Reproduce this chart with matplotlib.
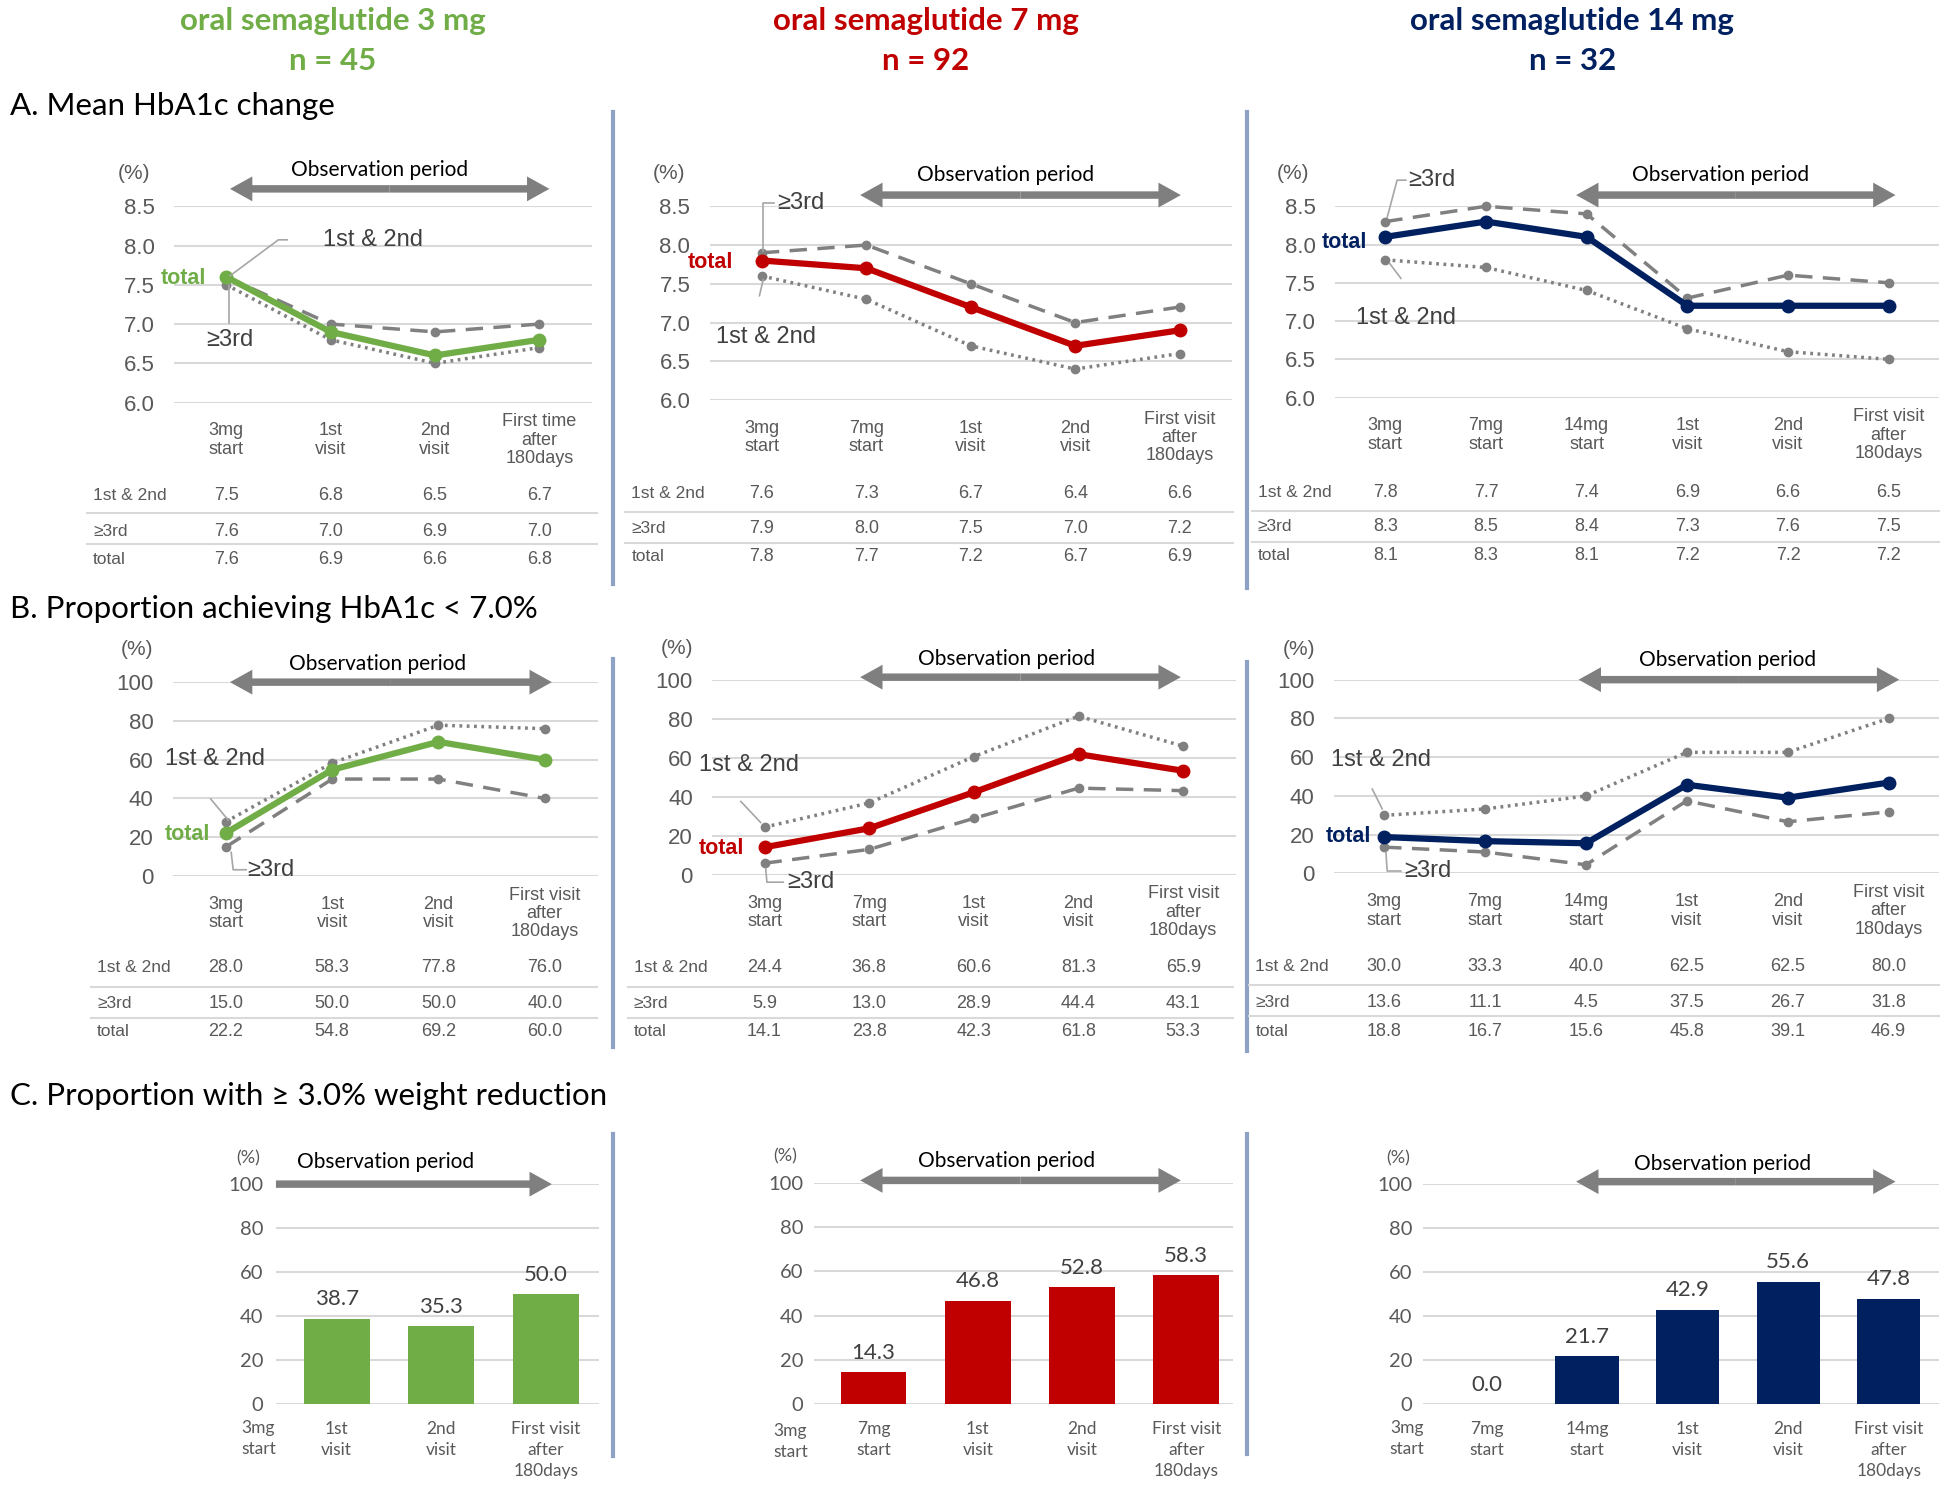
import numpy as np
import matplotlib.pyplot as plt
from matplotlib.patches import FancyArrow
from matplotlib.transforms import blended_transform_factory as blend

plt.rcParams['font.family'] = ['Liberation Sans', 'DejaVu Sans']
CAL = ['Lato', 'DejaVu Sans']

GREEN, RED, NAVY = '#70AD47', '#C00000', '#002060'
GRAY = '#808080'
TXT = '#595959'
GRID = '#D9D9D9'
SEP = '#8EA2C6'

# ---------------- data ----------------
row_names = ["1st & 2nd", "\u22653rd", "total"]

labels_3a = ["3mg\nstart", "1st\nvisit", "2nd\nvisit", "First time\nafter\n180days"]
labels_3b = ["3mg\nstart", "1st\nvisit", "2nd\nvisit", "First visit\nafter\n180days"]
labels_7 = ["3mg\nstart", "7mg\nstart", "1st\nvisit", "2nd\nvisit", "First visit\nafter\n180days"]
labels_14 = ["3mg\nstart", "7mg\nstart", "14mg\nstart", "1st\nvisit", "2nd\nvisit",
             "First visit\nafter\n180days"]

# A. mean HbA1c (%)
a3_12 = [7.5, 6.8, 6.5, 6.7]
a3_3rd = [7.6, 7.0, 6.9, 7.0]
a3_tot = [7.6, 6.9, 6.6, 6.8]
a7_12 = [7.6, 7.3, 6.7, 6.4, 6.6]
a7_3rd = [7.9, 8.0, 7.5, 7.0, 7.2]
a7_tot = [7.8, 7.7, 7.2, 6.7, 6.9]
a14_12 = [7.8, 7.7, 7.4, 6.9, 6.6, 6.5]
a14_3rd = [8.3, 8.5, 8.4, 7.3, 7.6, 7.5]
a14_tot = [8.1, 8.3, 8.1, 7.2, 7.2, 7.2]

# B. proportion HbA1c < 7.0 % (%)
b3_12 = [28.0, 58.3, 77.8, 76.0]
b3_3rd = [15.0, 50.0, 50.0, 40.0]
b3_tot = [22.2, 54.8, 69.2, 60.0]
b7_12 = [24.4, 36.8, 60.6, 81.3, 65.9]
b7_3rd = [5.9, 13.0, 28.9, 44.4, 43.1]
b7_tot = [14.1, 23.8, 42.3, 61.8, 53.3]
b14_12 = [30.0, 33.3, 40.0, 62.5, 62.5, 80.0]
b14_3rd = [13.6, 11.1, 4.5, 37.5, 26.7, 31.8]
b14_tot = [18.8, 16.7, 15.6, 45.8, 39.1, 46.9]

# C. proportion with >= 3.0 % weight reduction (%)
c3_labels = ["1st\nvisit", "2nd\nvisit", "First visit\nafter\n180days"]
c3_vals = [38.7, 35.3, 50.0]
c7_labels = ["7mg\nstart", "1st\nvisit", "2nd\nvisit", "First visit\nafter\n180days"]
c7_vals = [14.3, 46.8, 52.8, 58.3]
c14_labels = ["7mg\nstart", "14mg\nstart", "1st\nvisit", "2nd\nvisit", "First visit\nafter\n180days"]
c14_vals = [0.0, 21.7, 42.9, 55.6, 47.8]

# ---------------- layout (reference pixel grid) ----------------
W, H = 1568, 1204
fig = plt.figure(figsize=(19.49, 14.96), dpi=100)

ov = fig.add_axes([0, 0, 1, 1])
ov.set_xlim(0, W)
ov.set_ylim(H, 0)
ov.axis('off')
ov.set_zorder(5)


def box(x0, y0, x1, y1):
    return [x0 / W, 1 - y1 / H, (x1 - x0) / W, (y1 - y0) / H]


def obs_arrow(x0, x1, y, double=True):
    kw = dict(width=6, head_width=20, head_length=18, length_includes_head=True,
              color='#7F7F7F', lw=0)
    if double:
        xm = (x0 + x1) / 2
        ov.add_patch(FancyArrow(xm, y, x1 - xm, 0, **kw))
        ov.add_patch(FancyArrow(xm, y, x0 - xm, 0, **kw))
    else:
        ov.add_patch(FancyArrow(x0, y, x1 - x0, 0, **kw))


def obs(xc, ty, x0, x1, ay, double=True):
    ov.text(xc, ty, "Observation period", ha='center', va='center', family=CAL,
            fontsize=15, color='black')
    obs_arrow(x0, x1, ay, double)


def line_panel(rect, cats, s12, s3, tot, color, ylim, yticks, fmt):
    ax = fig.add_axes(box(*rect))
    x = np.arange(len(cats))
    ax.patch.set_alpha(0)
    for s in ax.spines.values():
        s.set_visible(False)
    ax.set_xlim(-0.5, len(cats) - 0.5)
    ax.set_ylim(*ylim)
    ax.set_yticks(yticks)
    ax.set_yticklabels([fmt.format(t) for t in yticks])
    ax.grid(axis='y', color=GRID, lw=1.5)
    ax.set_axisbelow(True)
    ax.tick_params(length=0, labelcolor=TXT)
    ax.tick_params(axis='y', labelsize=16, pad=14)
    ax.set_xticks(x)
    ax.set_xticklabels(cats, fontsize=13, linespacing=1.1)
    for t in ax.get_xticklabels():
        t.set_va('center')
    ax.tick_params(axis='x', pad=27)
    ax.plot(x, s3, color=GRAY, lw=2.5, ls=(0, (5, 3)), marker='o', ms=6, clip_on=False)
    ax.plot(x, s12, color=GRAY, lw=2.5, ls=(0, (0.8, 1.3)), marker='o', ms=6, clip_on=False)
    ax.plot(x, tot, color=color, lw=4.5, marker='o', ms=9, clip_on=False)
    return ax


def table(ax, series, x_lab, ys, line_ys, x_end):
    tr = blend(ax.transData, ov.transData)
    for name, vals, y in zip(row_names, series, ys):
        ov.text(x_lab, y, name, ha='left', va='center', fontsize=12.5, color=TXT)
        for i, v in enumerate(vals):
            ax.text(i, y, f"{v:.1f}", transform=tr, ha='center', va='center',
                    fontsize=13, color=TXT, clip_on=False)
    for y in line_ys:
        ov.plot([x_lab - 5, x_end], [y, y], color=GRID, lw=1.5)


def note(x, y, s, ha='left', color='#404040', bold=False, size=17):
    ov.text(x, y, s, ha=ha, va='center', fontsize=size, color=color,
            fontweight='bold' if bold else 'normal')


def leader(xs, ys):
    ov.plot(xs, ys, color='#A6A6A6', lw=1.2)


def bar_panel(rect, xlim, cats, vals, color, ypad):
    ax = fig.add_axes(box(*rect))
    x = np.arange(len(cats))
    ax.patch.set_alpha(0)
    for s in ax.spines.values():
        s.set_visible(False)
    ax.bar(x, vals, width=0.63, color=color, zorder=2)
    ax.set_xlim(*xlim)
    ax.set_ylim(0, 100)
    ax.set_yticks(range(0, 101, 20))
    ax.grid(axis='y', color=GRID, lw=1.5)
    ax.set_axisbelow(True)
    ax.tick_params(length=0, labelcolor=TXT)
    ax.tick_params(axis='y', labelsize=14.5, pad=ypad)
    for t in ax.get_yticklabels():
        t.set_family(CAL)
    ax.set_xticks(x)
    ax.set_xticklabels(cats, fontsize=12.5, linespacing=1.4, family=CAL)
    ax.tick_params(axis='x', pad=12)
    for xi, v in zip(x, vals):
        ax.annotate(f"{v:.1f}", (xi, v), xytext=(0, 14), textcoords='offset points',
                    ha='center', va='center', fontsize=16, family=CAL, color='#404040')
    return ax


# ---------------- headers ----------------
for xc, name, n, col in [(268, "oral semaglutide 3 mg", "n = 45", GREEN),
                         (745, "oral semaglutide 7 mg", "n = 92", RED),
                         (1265, "oral semaglutide 14 mg", "n = 32", NAVY)]:
    ov.text(xc, 17, name, ha='center', va='center', family=CAL, fontsize=22.5,
            fontweight='bold', color=col)
    ov.text(xc, 49, n, ha='center', va='center', family=CAL, fontsize=22.5,
            fontweight='bold', color=col)

ov.text(8, 85, "A. Mean HbA1c change", ha='left', va='center', family=CAL, fontsize=22.5)
ov.text(8, 490, "B. Proportion achieving HbA1c < 7.0%", ha='left', va='center',
        family=CAL, fontsize=22.5)
ov.text(8, 882, "C. Proportion with \u2265 3.0% weight reduction", ha='left', va='center',
        family=CAL, fontsize=22.5)

# separators
for x, y0, y1 in [(493, 90, 470), (1003, 90, 473), (493, 530, 843), (1003, 533, 846),
                  (493, 913, 1172), (1003, 913, 1170)]:
    ov.plot([x, x], [y0, y1], color=SEP, lw=3)

# ---------------- A ----------------
a_ticks = [6.0, 6.5, 7.0, 7.5, 8.0, 8.5]
ax = line_panel((140, 166, 476, 324), labels_3a, a3_12, a3_3rd, a3_tot, GREEN,
                (6.0, 8.5), a_ticks, "{:.1f}")
table(ax, [a3_12, a3_3rd, a3_tot], 75, [399, 428, 450], [413, 438], 480)
ov.text(108, 140, "(%)", ha='center', va='center', fontsize=15, color=TXT)
obs(305, 137, 185, 442, 152)
note(166, 224, "total", ha='right', color=GREEN, bold=True, size=15.5)
note(260, 193, "1st & 2nd")
leader([231, 224, 185], [193, 193, 222])
note(166, 274, "\u22653rd")
leader([184, 184], [229, 260])

ax = line_panel((571, 166, 991, 322), labels_7, a7_12, a7_3rd, a7_tot, RED,
                (6.0, 8.5), a_ticks, "{:.1f}")
table(ax, [a7_12, a7_3rd, a7_tot], 508, [397, 425, 448], [412, 437], 992)
ov.text(538, 140, "(%)", ha='center', va='center', fontsize=15, color=TXT)
obs(809, 141, 692, 950, 157)
note(590, 211, "total", ha='right', color=RED, bold=True, size=15.5)
note(625, 163, "\u22653rd")
leader([623, 614, 614], [163.5, 163.5, 202])
note(576, 271, "1st & 2nd")
leader([614, 611], [225, 238])

ax = line_panel((1074, 166, 1560, 320), labels_14, a14_12, a14_3rd, a14_tot, NAVY,
                (6.0, 8.5), a_ticks, "{:.1f}")
table(ax, [a14_12, a14_3rd, a14_tot], 1012, [396, 424, 447], [411, 436], 1560)
ov.text(1040, 140, "(%)", ha='center', va='center', fontsize=15, color=TXT)
obs(1384, 141, 1268, 1525, 157)
note(1100, 195, "total", ha='right', color=NAVY, bold=True, size=15.5)
note(1133, 145, "\u22653rd")
leader([1131, 1124, 1116], [145, 145, 175])
note(1091, 256, "1st & 2nd")
leader([1118, 1127], [212, 224])

# ---------------- B ----------------
b_ticks = [0, 20, 40, 60, 80, 100]
ax = line_panel((139, 549, 481, 705), labels_3b, b3_12, b3_3rd, b3_tot, GREEN,
                (0, 100), b_ticks, "{:d}")
table(ax, [b3_12, b3_3rd, b3_tot], 78, [779, 808, 830], [794, 819], 480)
ov.text(110, 523, "(%)", ha='center', va='center', fontsize=15, color=TXT)
obs(304, 534, 185, 444, 549)
note(169, 672, "total", ha='right', color=GREEN, bold=True, size=15.5)
note(133, 611, "1st & 2nd")
leader([169.5, 183.6], [643, 660])
note(199, 700, "\u22653rd")
leader([198, 187.6, 186], [700, 700, 686])

ax = line_panel((573, 547, 994, 704), labels_7, b7_12, b7_3rd, b7_tot, RED,
                (0, 100), b_ticks, "{:d}")
table(ax, [b7_12, b7_3rd, b7_tot], 510, [779, 808, 830], [794, 819], 992)
ov.text(545, 522, "(%)", ha='center', va='center', fontsize=15, color=TXT)
obs(810, 530, 692, 950, 545)
note(599, 683, "total", ha='right', color=RED, bold=True, size=15.5)
note(562, 616, "1st & 2nd")
leader([596, 612], [645, 662])
note(633, 710, "\u22653rd")
leader([630, 617, 616], [710, 710, 699])

ax = line_panel((1073, 547, 1560, 703), labels_14, b14_12, b14_3rd, b14_tot, NAVY,
                (0, 100), b_ticks, "{:d}")
table(ax, [b14_12, b14_3rd, b14_tot], 1010, [778, 807, 830], [793, 818], 1560)
ov.text(1045, 523, "(%)", ha='center', va='center', fontsize=15, color=TXT)
obs(1390, 531, 1270, 1528, 547)
note(1103, 673, "total", ha='right', color=NAVY, bold=True, size=15.5)
note(1071, 612, "1st & 2nd")
leader([1104, 1112], [635, 651])
note(1130, 701, "\u22653rd")
leader([1127, 1116, 1115], [701, 701, 686])

# ---------------- C ----------------
bar_panel((222, 953, 482, 1130), (-0.58, 2.51), c3_labels, c3_vals, GREEN, 9)
ov.text(200, 932, "(%)", ha='center', va='center', family=CAL, fontsize=13, color=TXT)
obs(310, 935, 222, 444, 953, double=False)
ov.text(208, 1143, "3mg\nstart", ha='center', va='top', family=CAL, fontsize=12.5,
        color=TXT, linespacing=1.4)

bar_panel((655, 952, 992, 1130), (-0.57, 3.45), c7_labels, c7_vals, RED, 8)
ov.text(632, 931, "(%)", ha='center', va='center', family=CAL, fontsize=13, color=TXT)
obs(810, 934, 692, 950, 950)
ov.text(636, 1145, "3mg\nstart", ha='center', va='top', family=CAL, fontsize=12.5,
        color=TXT, linespacing=1.4)

bar_panel((1145, 953, 1560, 1130), (-0.63, 4.5), c14_labels, c14_vals, NAVY, 8)
ov.text(1125, 932, "(%)", ha='center', va='center', family=CAL, fontsize=13, color=TXT)
obs(1386, 937, 1268, 1525, 951)
ov.text(1132, 1143, "3mg\nstart", ha='center', va='top', family=CAL, fontsize=12.5,
        color=TXT, linespacing=1.4)

fig.savefig("out.png", dpi=100, facecolor='white')
